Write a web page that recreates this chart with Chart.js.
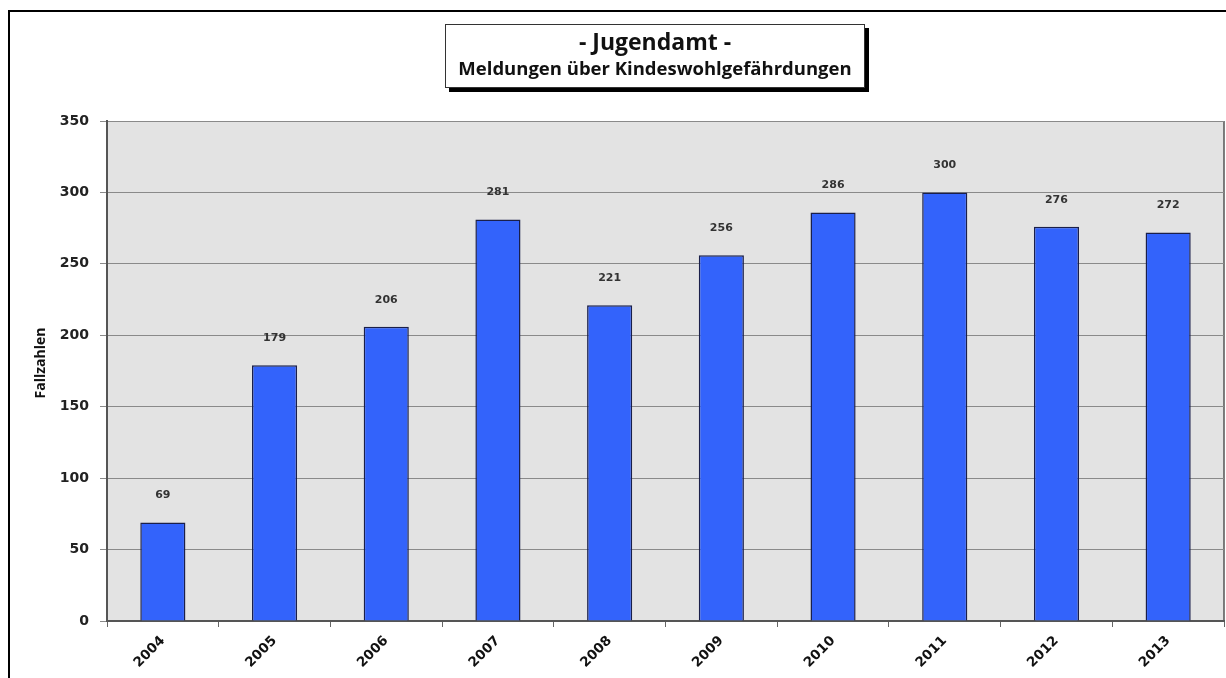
<!DOCTYPE html>
<html>
<head>
<meta charset="utf-8">
<script src="https://cdn.jsdelivr.net/npm/chart.js@4.4.0/dist/chart.umd.min.js"></script>
<style>
  html, body { margin: 0; padding: 0; background: #fff; }
  #wrap { position: relative; width: 1226px; height: 678px; overflow: hidden; }
  #frame { position: absolute; left: 8px; top: 10px; width: 1300px; height: 800px;
           border-left: 2px solid #000; border-top: 2px solid #000; }
  #titleBox { position: absolute; left: 445px; top: 24px; width: 418px; height: 62px;
              border: 1px solid #333; background: #fff; box-shadow: 4px 4px 0 #000;
              text-align: center; font-family: "Open Sans", sans-serif; font-weight: bold; color: #111; }
  #titleBox .t1 { font-size: 23px; line-height: 27px; margin-top: 3px; }
  #titleBox .t2 { font-size: 18.5px; line-height: 25px; }
  canvas { position: absolute; left: 0; top: 0; }
</style>
</head>
<body>
<div id="wrap">
  <div id="frame"></div>
  <canvas id="chart" width="1226" height="678"></canvas>
  <div id="titleBox">
    <div class="t1">- Jugendamt -</div>
    <div class="t2">Meldungen über Kindeswohlgefährdungen</div>
  </div>
</div>
<script>
// Daten
const JAHRE  = ['2004','2005','2006','2007','2008','2009','2010','2011','2012','2013'];
const FAELLE = [69, 179, 206, 281, 221, 256, 286, 300, 276, 272];
const Y_MIN = 0, Y_MAX = 350, Y_STEP = 50;
const Y_TITEL = 'Fallzahlen';

// Hintergrund der Zeichenfläche
const plotBg = {
  id: 'plotBg',
  beforeDraw(chart) {
    const { ctx, chartArea: a } = chart;
    ctx.save();
    ctx.fillStyle = '#e3e3e3';
    ctx.fillRect(a.left, a.top, a.right - a.left, a.bottom - a.top);
    ctx.strokeStyle = '#555';
    ctx.lineWidth = 1.5;
    ctx.beginPath();
    ctx.moveTo(a.right, a.top);
    ctx.lineTo(a.right, a.bottom);
    ctx.stroke();
    ctx.restore();
  }
};

// Werte über den Balken + Achsentitel
const werte = {
  id: 'werte',
  afterDatasetsDraw(chart) {
    const { ctx, chartArea: a } = chart;
    ctx.save();
    ctx.font = 'bold 11px "DejaVu Sans", sans-serif';
    ctx.fillStyle = '#333';
    ctx.textAlign = 'center';
    ctx.textBaseline = 'middle';
    chart.getDatasetMeta(0).data.forEach((bar, i) => {
      ctx.fillText(FAELLE[i], bar.x, bar.y - 27);
    });
    ctx.translate(41, (a.top + a.bottom) / 2 - 8);
    ctx.rotate(-Math.PI / 2);
    ctx.font = 'bold 14px "Open Sans", sans-serif';
    ctx.fillStyle = '#111';
    ctx.fillText(Y_TITEL, 0, 0);
    ctx.restore();
  }
};

new Chart(document.getElementById('chart'), {
  type: 'bar',
  data: {
    labels: JAHRE,
    datasets: [{
      data: FAELLE,
      backgroundColor: '#3363fb',
      borderColor: '#1a1f4a',
      borderWidth: 1.5,
      barPercentage: 0.8,
      categoryPercentage: 0.505,
    }]
  },
  options: {
    responsive: false,
    animation: false,
    layout: { padding: { top: 121, right: 2, left: 0, bottom: 0 } },
    plugins: { legend: { display: false }, tooltip: { enabled: false } },
    scales: {
      x: {
        afterFit: (s) => { s.height = 57; },
        grid: { drawOnChartArea: false, drawTicks: true, tickLength: 6, color: '#666', offset: true },
        border: { color: '#555', width: 2 },
        ticks: {
          color: '#111', minRotation: 45, maxRotation: 45, padding: 6,
          font: { family: '"DejaVu Sans", sans-serif', weight: 'bold', size: 13.5 }
        }
      },
      y: {
        min: Y_MIN, max: Y_MAX,
        afterFit: (s) => { s.width = 107; },
        grid: { color: '#8a8a8a', lineWidth: 1, tickLength: 7 },
        border: { color: '#555', width: 2 },
        ticks: {
          stepSize: Y_STEP, color: '#222', padding: 11,
          font: { family: '"DejaVu Sans", sans-serif', weight: 'bold', size: 14 }
        }
      }
    }
  },
  plugins: [plotBg, werte]
});
</script>
</body>
</html>
